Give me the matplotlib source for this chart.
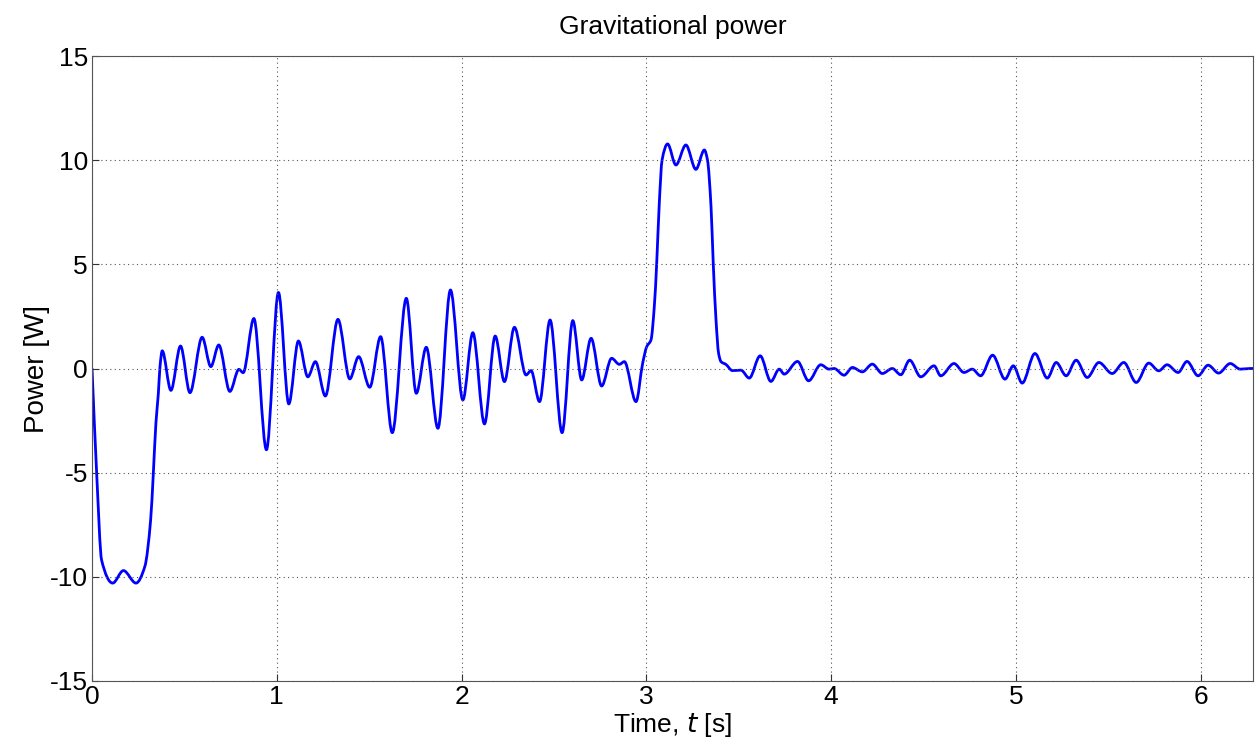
import matplotlib
matplotlib.use("Agg")
import matplotlib.pyplot as plt
from matplotlib.path import Path
from matplotlib.patches import PathPatch

plt.rcParams["font.family"] = ["Liberation Sans", "DejaVu Sans"]
plt.rcParams["axes.unicode_minus"] = False

# (time [s], power [W])
time_s = [
    0.0, 0.025, 0.052, 0.112, 0.17, 0.238, 0.286, 0.317, 0.332, 0.346, 0.359, 0.368,
    0.38, 0.427, 0.479, 0.53, 0.596, 0.643, 0.686, 0.746, 0.795, 0.818, 0.876, 0.944,
    1.009, 1.065, 1.117, 1.168, 1.209, 1.263, 1.331, 1.395, 1.443, 1.503, 1.562, 1.625,
    1.701, 1.755, 1.809, 1.872, 1.94, 2.007, 2.061, 2.124, 2.182, 2.232, 2.286, 2.349,
    2.376, 2.422, 2.479, 2.544, 2.602, 2.65, 2.701, 2.758, 2.812, 2.854, 2.881, 2.944,
    2.98, 3.002, 3.025, 3.043, 3.056, 3.07, 3.085, 3.115, 3.16, 3.214, 3.268, 3.314,
    3.331, 3.35, 3.362, 3.377, 3.391, 3.404, 3.43, 3.466, 3.512, 3.557, 3.616, 3.674,
    3.719, 3.746, 3.818, 3.878, 3.944, 3.989, 4.016, 4.07, 4.115, 4.169, 4.223, 4.277,
    4.331, 4.377, 4.425, 4.485, 4.557, 4.593, 4.665, 4.719, 4.764, 4.809, 4.874, 4.941,
    4.986, 5.034, 5.103, 5.17, 5.218, 5.272, 5.326, 5.386, 5.449, 5.521, 5.584, 5.651,
    5.719, 5.773, 5.818, 5.878, 5.926, 5.986, 6.04, 6.097, 6.16, 6.214, 6.268, 6.283,
]
power_w = [
    0.0, -5.0, -9.2, -10.3, -9.7, -10.3, -9.5, -7.3, -5.0, -2.6, -1.2, 0.1,
    0.85, -1.05, 1.08, -1.16, 1.5, 0.09, 1.13, -1.1, -0.04, -0.2, 2.4, -3.9,
    3.65, -1.7, 1.32, -0.4, 0.33, -1.32, 2.36, -0.5, 0.57, -0.9, 1.53, -3.08,
    3.37, -1.19, 1.02, -2.87, 3.77, -1.51, 1.72, -2.66, 1.56, -0.63, 1.98, -0.31,
    -0.1, -1.59, 2.33, -3.08, 2.3, -0.55, 1.45, -0.84, 0.49, 0.2, 0.33, -1.59,
    0.25, 1.05, 1.37, 2.97, 5.05, 7.93, 10.0, 10.78, 9.77, 10.73, 9.56, 10.49,
    10.0, 7.77, 5.05, 2.33, 0.73, 0.33, 0.2, -0.1, -0.08, -0.46, 0.61, -0.62,
    -0.03, -0.27, 0.34, -0.59, 0.18, -0.03, 0.0, -0.32, 0.05, -0.16, 0.21, -0.24,
    0.0, -0.3, 0.4, -0.4, 0.13, -0.35, 0.24, -0.19, -0.03, -0.35, 0.64, -0.51,
    0.13, -0.7, 0.72, -0.46, 0.29, -0.35, 0.4, -0.43, 0.29, -0.24, 0.29, -0.67,
    0.26, -0.11, 0.18, -0.19, 0.34, -0.35, 0.16, -0.22, 0.24, -0.03, 0.0, 0.0,
]

x_ticks = [0, 1, 2, 3, 4, 5, 6]
y_ticks = [-15, -10, -5, 0, 5, 10, 15]


def smooth_path(xs, ys):
    """Monotone (PCHIP-style) cubic Bezier path through the points, no overshoot."""
    n = len(xs)
    h = [xs[i + 1] - xs[i] for i in range(n - 1)]
    m = [(ys[i + 1] - ys[i]) / h[i] for i in range(n - 1)]
    d = [0.0] * n
    d[0], d[-1] = m[0], m[-1]
    for i in range(1, n - 1):
        if m[i - 1] * m[i] > 0:
            w1 = 2 * h[i] + h[i - 1]
            w2 = h[i] + 2 * h[i - 1]
            d[i] = (w1 + w2) / (w1 / m[i - 1] + w2 / m[i])
    verts = [(xs[0], ys[0])]
    codes = [Path.MOVETO]
    for i in range(n - 1):
        verts += [
            (xs[i] + h[i] / 3, ys[i] + d[i] * h[i] / 3),
            (xs[i + 1] - h[i] / 3, ys[i + 1] - d[i + 1] * h[i] / 3),
            (xs[i + 1], ys[i + 1]),
        ]
        codes += [Path.CURVE4] * 3
    return Path(verts, codes)


fig = plt.figure(figsize=(12.57, 7.5), dpi=100)
ax = fig.add_axes([0.0732, 0.092, 0.9236, 0.8333])
ax.add_patch(PathPatch(smooth_path(time_s, power_w), facecolor="none",
                       edgecolor="#0000ff", linewidth=2.0, capstyle="round",
                       joinstyle="round"))

ax.set_xlim(0, 6.283)
ax.set_ylim(-15, 15)
ax.set_xticks(x_ticks)
ax.set_yticks(y_ticks)
ax.set_yticklabels([str(v) for v in y_ticks])
ax.tick_params(direction="in", labelsize=19, length=5, color="#333333", pad=3)
ax.grid(True, linestyle=(0, (1, 3)), color="#555555", linewidth=0.8)
for s in ax.spines.values():
    s.set_color("#555555")

ax.set_title("Gravitational power", fontsize=19, pad=16)
ax.set_xlabel("Time, $t$ [s]", fontsize=19, labelpad=1)
ax.set_ylabel("Power [W]", fontsize=20, labelpad=0)

fig.savefig("out.png", dpi=100)
